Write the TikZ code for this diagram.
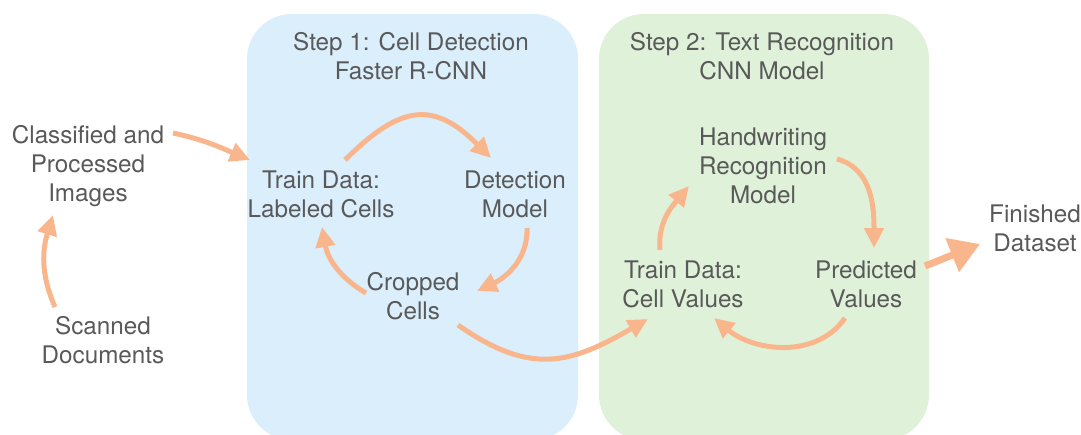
\documentclass[tikz,border=0pt]{standalone}
\usepackage{fontspec}
\setmainfont{TeX Gyre Heros}
\usetikzlibrary{arrows.meta,calc}
\definecolor{txtgray}{HTML}{595959}
\definecolor{flow}{HTML}{F9B68C}
\definecolor{stepblue}{HTML}{DAEEFC}
\definecolor{stepgreen}{HTML}{DFF2D9}
\begin{document}
\begin{tikzpicture}[x=0.02cm,y=0.02cm,
  lbl/.style={align=center,text=txtgray,inner sep=0pt,font=\fontsize{13.8}{16.5}\selectfont},
  flowarrow/.style={draw=flow,line width=0.1cm,-{Triangle[length=0.4cm,width=0.38cm]}},
  bigarrow/.style={draw=flow,line width=0.14cm,-{Triangle[length=0.6cm,width=0.7cm]}}]
\useasboundingbox (0,0) rectangle (1081,-434);
% the two step panels
\begin{scope}
\clip (0,0) rectangle (1081,-434);
\fill[stepblue,rounded corners=0.9cm] (247,-14) rectangle (578,-440);
\fill[stepgreen,rounded corners=0.9cm] (599,-14) rectangle (929,-440);
\end{scope}
\node[lbl] (title1) at (411,-56) {Step 1: Cell Detection\\Faster R-CNN};
\node[lbl] (title2) at (762,-56) {Step 2: Text Recognition\\CNN Model};
% inputs
\node[lbl] (classified) at (88,-166) {Classified and\\Processed\\Images};
\node[lbl] (scanned) at (103,-340) {Scanned\\Documents};
% step 1
\node[lbl] (train1) at (321,-194) {Train Data:\\Labeled Cells};
\node[lbl] (detect) at (515,-194) {Detection\\Model};
\node[lbl] (cropped) at (413,-296) {Cropped\\Cells};
% step 2
\node[lbl] (hwr) at (763,-166) {Handwriting\\Recognition\\Model};
\node[lbl] (train2) at (683,-284) {Train Data:\\Cell Values};
\node[lbl] (pred) at (866,-284) {Predicted\\Values};
\node[lbl] (finished) at (1035,-228) {Finished\\Dataset};
% flow
\draw[flowarrow] ($(scanned)+(-48,33)$) to[out=114,in=-107] ($(classified)+(-35,-49)$);
\draw[flowarrow] ($(classified)+(85,33)$) to[out=-12,in=157] ($(train1)+(-71,34)$);
\draw[flowarrow] ($(train1)+(24,34)$) to[out=45,in=135,looseness=1.4] ($(detect)+(-24,36)$);
\draw[flowarrow] ($(detect)+(12,-34)$) to[out=-88,in=25] ($(cropped)+(64,5)$);
\draw[flowarrow] ($(cropped)+(-47,3)$) to[out=150,in=-80] ($(train1)+(1,-33)$);
\draw[flowarrow] ($(cropped)+(45,-29)$) to[out=-35,in=-150,looseness=1.2] ($(train2)+(-35,-35)$);
\draw[flowarrow] ($(train2)+(-23,34)$) to[out=95,in=-130] ($(hwr)+(-74,-20)$);
\draw[flowarrow] ($(hwr)+(74,7)$) to[out=-15,in=90] ($(pred)+(8,36)$);
\draw[flowarrow] ($(pred)+(-21,-34)$) to[out=-125,in=-40] ($(train2)+(31,-34)$);
\draw[bigarrow] ($(pred)+(59,18)$) -- ($(finished)+(-55,-16)$);
\end{tikzpicture}
\end{document}
